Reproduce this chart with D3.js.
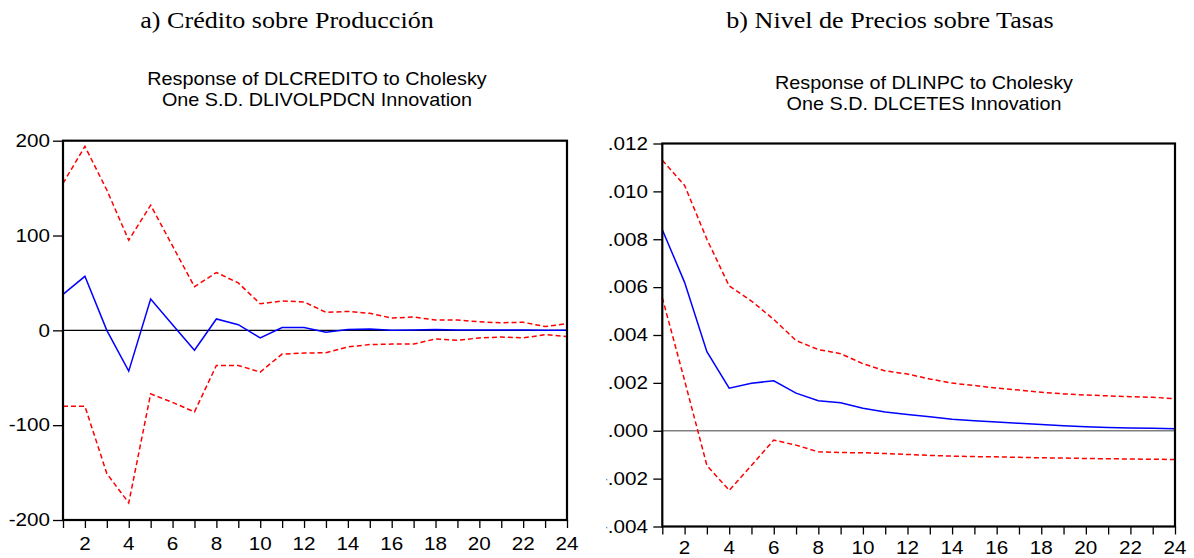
<!DOCTYPE html>
<html>
<head>
<meta charset="utf-8">
<script src="https://cdn.jsdelivr.net/npm/d3@7"></script>
<style>
  html, body { margin: 0; padding: 0; background: #fff; }
  svg { display: block; }
</style>
</head>
<body>
<svg id="chart" width="1194" height="558"></svg>
<script>
// ---------------- DATA ----------------
const periods = d3.range(1, 25);            // 1..24
const xTickLabels = [2, 4, 6, 8, 10, 12, 14, 16, 18, 20, 22, 24];

// Panel a) Response of DLCREDITO to Cholesky One S.D. DLIVOLPDCN Innovation
const responseA = [38, 57, 0, -43, 33, 6, -21, 12, 6, -8, 3, 3, -2, 1, 1.5, 0, 0.5, 1, 0.5, 0.5, 0.3, 0.3, 0, 0.2];
const upperA    = [155, 194, 148, 95, 132, 89, 46, 61, 50, 28, 31, 30, 19, 20, 18, 13, 14, 11, 11, 9, 8, 8.5, 4, 7];
const lowerA    = [-80, -80, -151, -182, -67, -76, -86, -37, -37, -44, -25, -24, -23.5, -17.5, -15, -14.5, -14.5, -9, -10.5, -8, -7, -8, -4.5, -6.5];
const yTicksA   = [200, 100, 0, -100, -200];
const yLabelsA  = ["200", "100", "0", "-100", "-200"];

// Panel b) Response of DLINPC to Cholesky One S.D. DLCETES Innovation
const responseB = [0.0084, 0.0062, 0.0033, 0.00178, 0.00198, 0.00209, 0.00157, 0.00125, 0.00117, 0.00094, 0.00078, 0.00068, 0.00058, 0.00048, 0.00042, 0.00037, 0.00031, 0.00026, 0.00021, 0.00017, 0.00014, 0.00011, 0.0001, 0.00008];
const upperB    = [0.0113, 0.01025, 0.0080, 0.00605, 0.00542, 0.00465, 0.00377, 0.00339, 0.00322, 0.0028, 0.0025, 0.00237, 0.00216, 0.00199, 0.00189, 0.00178, 0.0017, 0.00161, 0.00154, 0.00149, 0.00146, 0.00142, 0.0014, 0.00134];
const lowerB    = [0.00556, 0.0021, -0.00145, -0.00249, -0.00145, -0.00039, -0.0006, -0.00088, -0.00091, -0.00092, -0.00095, -0.00099, -0.00103, -0.00106, -0.00108, -0.00109, -0.00111, -0.00113, -0.00114, -0.00116, -0.00117, -0.00118, -0.00119, -0.0012];
const yTicksB   = [0.012, 0.010, 0.008, 0.006, 0.004, 0.002, 0.000, -0.002, -0.004];
const yLabelsB  = [".012", ".010", ".008", ".006", ".004", ".002", ".000", "-.002", "-.004"];

const headingA = "a) Crédito sobre Producción";
const headingB = "b) Nivel de Precios sobre Tasas";
const titleA = ["Response of DLCREDITO to Cholesky", "One S.D. DLIVOLPDCN Innovation"];
const titleB = ["Response of DLINPC to Cholesky", "One S.D. DLCETES Innovation"];

// ---------------- DRAWING ----------------
const svg = d3.select("#chart");
const SANS = "'Liberation Sans', Arial, sans-serif";
const SERIF = "'Liberation Serif', 'Times New Roman', serif";

function addText(g, x, y, str, opt) {
  const t = g.append("text")
    .attr("transform", `translate(${x},${y}) scale(${opt.sx || 1},1)`)
    .attr("text-anchor", opt.anchor || "middle")
    .attr("font-family", opt.family || SANS)
    .attr("font-size", opt.size + "px")
    .attr("fill", opt.fill || "#000")
    .text(str);
  return t;
}

function panel(cfg) {
  const g = svg.append("g");
  const x = d3.scaleLinear().domain([1, 24]).range([cfg.left, cfg.right]);
  const y = d3.scaleLinear().domain(cfg.yDomain).range([cfg.bottom, cfg.top]);

  // heading & titles
  addText(g, cfg.headX, cfg.headY, cfg.heading, {size: 22.5, family: SERIF, sx: 1.16});
  addText(g, cfg.titleX, cfg.titleY, cfg.title[0], {size: 18, sx: 1.1});
  addText(g, cfg.titleX, cfg.titleY + 21, cfg.title[1], {size: 18, sx: 1.1});

  // zero line
  g.append("line")
    .attr("x1", x(1)).attr("x2", x(24))
    .attr("y1", y(0)).attr("y2", y(0))
    .attr("stroke", cfg.zeroColor).attr("stroke-width", cfg.zeroWidth);

  const line = d3.line().x((d, i) => x(periods[i])).y(d => y(d));

  g.append("path").datum(cfg.upper).attr("d", line)
    .attr("fill", "none").attr("stroke", "#ff0000").attr("stroke-width", 1.5)
    .attr("stroke-dasharray", "5,3");
  g.append("path").datum(cfg.lower).attr("d", line)
    .attr("fill", "none").attr("stroke", "#ff0000").attr("stroke-width", 1.5)
    .attr("stroke-dasharray", "5,3");
  g.append("path").datum(cfg.resp).attr("d", line)
    .attr("fill", "none").attr("stroke", "#0000ff").attr("stroke-width", 1.5);

  // frame
  g.append("rect")
    .attr("x", x(1)).attr("y", y(cfg.yDomain[1]))
    .attr("width", x(24) - x(1)).attr("height", y(cfg.yDomain[0]) - y(cfg.yDomain[1]))
    .attr("fill", "none").attr("stroke", "#000").attr("stroke-width", 2.2);

  // x axis ticks
  const xAxis = d3.axisBottom(x).tickValues(periods).tickSize(8).tickFormat("");
  const xa = g.append("g").attr("transform", `translate(0,${y(cfg.yDomain[0])})`).call(xAxis);
  xa.select(".domain").remove();
  xa.selectAll(".tick line").attr("stroke", "#000").attr("stroke-width", 1.3);
  xTickLabels.forEach(v => {
    addText(g, x(v), cfg.xLabelY, String(v), {size: 17.5, sx: 1.18});
  });

  // y axis ticks
  const yAxis = d3.axisLeft(y).tickValues(cfg.yTicks).tickSize(cfg.yTickLen).tickFormat("");
  const ya = g.append("g").attr("transform", `translate(${x(1)},0)`).call(yAxis);
  ya.select(".domain").remove();
  ya.selectAll(".tick line").attr("stroke", "#000").attr("stroke-width", 1.3);

  const lab = g.append("g");
  if (cfg.clipX !== undefined) {
    const id = "clip" + Math.round(cfg.clipX);
    svg.append("clipPath").attr("id", id).append("rect")
      .attr("x", cfg.clipX).attr("y", 0).attr("width", 1194).attr("height", 558);
    lab.attr("clip-path", `url(#${id})`);
  }
  cfg.yTicks.forEach((v, i) => {
    addText(lab, cfg.yLabelX, y(v) + 6.3, cfg.yLabels[i], {size: 17.5, sx: 1.18, anchor: "end"});
  });
}

panel({
  left: 63, right: 567, top: 140.7, bottom: 520,
  yDomain: [-200, 200], yTicks: yTicksA, yLabels: yLabelsA,
  resp: responseA, upper: upperA, lower: lowerA,
  heading: headingA, headX: 287, headY: 28,
  title: titleA, titleX: 317, titleY: 85,
  xLabelY: 549.5, yLabelX: 50, yTickLen: 10,
  zeroColor: "#000", zeroWidth: 1.1
});

panel({
  left: 662.3, right: 1175, top: 143.5, bottom: 526.5,
  yDomain: [-0.004, 0.012], yTicks: yTicksB, yLabels: yLabelsB,
  resp: responseB, upper: upperB, lower: lowerB,
  heading: headingB, headX: 890, headY: 28,
  title: titleB, titleX: 924, titleY: 89,
  xLabelY: 553.5, yLabelX: 648, yTickLen: 9,
  zeroColor: "#808080", zeroWidth: 1.6,
  clipX: 606.5
});
</script>
</body>
</html>
